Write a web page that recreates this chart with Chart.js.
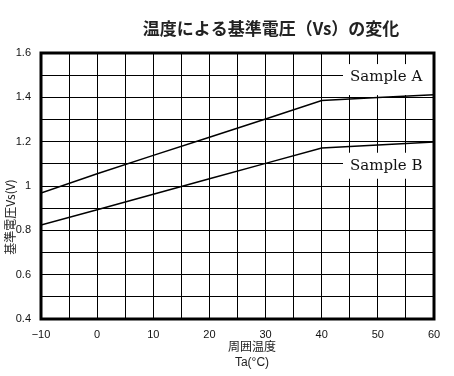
<!DOCTYPE html>
<html lang="ja">
  <head>
    <meta charset="utf-8">
    <title>温度による基準電圧</title>
    <style>
      body{ margin: 0; background: #fff; }
      canvas{ display: block; }
    </style>
  </head>
  <body>
    <canvas id="vsChart" width="454" height="376"></canvas>
    <script src="https://cdn.jsdelivr.net/npm/chart.js@4/dist/chart.umd.min.js"></script>
    <script>
    // data
    var temps   = [-10, 0, 10, 20, 30, 40, 50, 60];
    var sampleA = [0.968, 1.055, 1.138, 1.220, 1.302, 1.386, 1.399, 1.412];
    var sampleB = [0.824, 0.893, 0.963, 1.033, 1.102, 1.171, 1.185, 1.198];
    var xTickValues = [-10, 0, 10, 20, 30, 40, 50, 60];
    var xTickLabels = ['\u221210', '0', '10', '20', '30', '40', '50', '60'];
    var yTickValues = [0.4, 0.6, 0.8, 1.0, 1.2, 1.4, 1.6];
    var yTickLabels = ['0.4', '0.6', '0.8', '1', '1.2', '1.4', '1.6'];

    var TITLE = '温度による基準電圧（Vs）の変化';
    var Y_TITLE = '基準電圧Vs(V)';
    var X_TITLE = ['周囲温度', 'Ta(°C)'];

    function pts(ys){
      return temps.map(function(t, i){ return {x: t, y: ys[i]}; });
    }
    function findLabel(vals, labels, v){
      for(var i = 0; i < vals.length; i++){
        if(Math.abs(vals[i] - v) < 1e-6) return labels[i];
      }
      return '';
    }

    // white boxes + series names, drawn over the grid but under the lines
    var labelsPlugin = {
      id: 'labels',
      beforeDatasetsDraw: function(chart){
        var c = chart.ctx, a = chart.chartArea;
        var ys = chart.scales.y;
        c.save();
        c.fillStyle = '#fff';
        c.fillRect(a.left + 302, ys.getPixelForValue(1.55), a.right - a.left - 302, 31);
        c.fillRect(a.left + 302, ys.getPixelForValue(1.15), a.right - a.left - 302, 26);
        c.fillStyle = '#111';
        c.font = '15px "DejaVu Serif"';
        c.textBaseline = 'middle';
        c.textAlign = 'left';
        c.fillText('Sample A', a.left + 309, ys.getPixelForValue(1.49));
        c.fillText('Sample B', a.left + 309, ys.getPixelForValue(1.09));
        c.restore();
      },
      afterDraw: function(chart){
        var c = chart.ctx, a = chart.chartArea;
        c.save();
        c.strokeStyle = '#000';
        c.lineWidth = 3;
        c.strokeRect(a.left, a.top, a.right - a.left, a.bottom - a.top);

        c.fillStyle = '#222';
        c.textAlign = 'center';
        c.textBaseline = 'middle';
        c.font = 'bold 17px "Noto Sans CJK JP"';
        c.fillText(TITLE, 271, 29);

        c.font = '12px "Noto Sans CJK JP"';
        c.fillText(X_TITLE[0], 252, 346);
        c.font = '12px "Liberation Sans"';
        c.fillText(X_TITLE[1], 252, 363);

        c.translate(10, 217);
        c.rotate(-Math.PI / 2);
        c.font = '12px "Noto Sans CJK JP"';
        c.fillText(Y_TITLE, 0, 0);
        c.restore();
      }
    };

    var ctx = document.getElementById('vsChart').getContext('2d');
    var chart = new Chart(ctx, {
      type: 'line',
      data: {
        datasets: [
          {label: 'Sample A', data: pts(sampleA), borderColor: '#000', borderWidth: 1.5, pointRadius: 0, fill: false, tension: 0},
          {label: 'Sample B', data: pts(sampleB), borderColor: '#000', borderWidth: 1.5, pointRadius: 0, fill: false, tension: 0}
        ]
      },
      options: {
        responsive: false,
        animation: false,
        layout: {padding: {left: 0, top: 53, right: 20, bottom: 0}},
        plugins: {legend: {display: false}, tooltip: {enabled: false}},
        scales: {
          x: {
            type: 'linear', min: -10, max: 60,
            afterFit: function(s){ s.height = 57; },
            grid: {color: '#000', lineWidth: 1, drawTicks: false},
            border: {display: false},
            ticks: {
              stepSize: 5, autoSkip: false, maxRotation: 0, padding: 9,
              color: '#111', font: {family: 'Liberation Sans', size: 11},
              callback: function(v){ return findLabel(xTickValues, xTickLabels, v); }
            }
          },
          y: {
            min: 0.4, max: 1.6,
            afterFit: function(s){ s.width = 41; },
            grid: {color: '#000', lineWidth: 1, drawTicks: false},
            border: {display: false},
            ticks: {
              stepSize: 0.1, autoSkip: false, padding: 10,
              color: '#111', font: {family: 'Liberation Sans', size: 11},
              callback: function(v){ return findLabel(yTickValues, yTickLabels, v); }
            }
          }
        }
      },
      plugins: [labelsPlugin]
    });
    </script>
  </body>
</html>
